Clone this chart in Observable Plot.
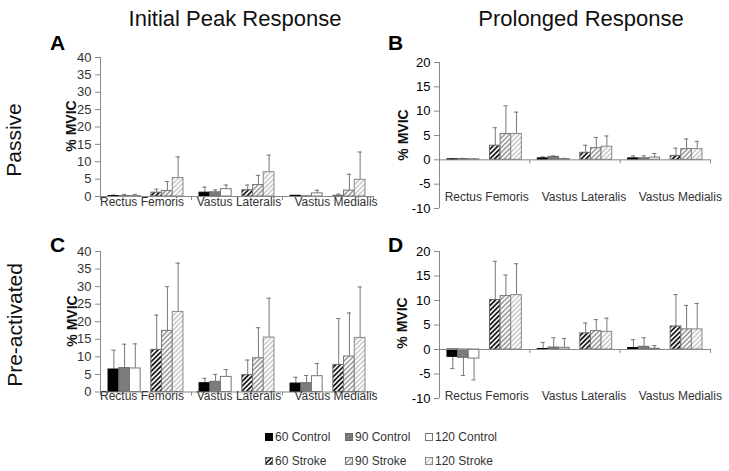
<!DOCTYPE html>
<html><head><meta charset="utf-8">
<script src="https://cdn.jsdelivr.net/npm/d3@7"></script>
<script src="https://cdn.jsdelivr.net/npm/@observablehq/plot@0.6"></script>
<style>
body{margin:0;background:#fff}
#root{position:relative;width:729px;height:471px;overflow:hidden;background:#fff;font-family:"Liberation Sans",Arial,sans-serif}
.panel{position:absolute}
.leg{position:absolute;display:flex;align-items:center;font-size:12px;color:#333;white-space:nowrap;line-height:12px}
.leg svg{margin-right:2px}
</style></head><body>
<div id="root">
<svg width="0" height="0" style="position:absolute"><defs>
 <pattern id="hatch60" patternUnits="userSpaceOnUse" width="3.4" height="3.4" patternTransform="rotate(45)">
  <rect width="3.4" height="3.4" fill="#fff"/><line x1="1.7" y1="0" x2="1.7" y2="3.4" stroke="#1a1a1a" stroke-width="1.8"/>
 </pattern>
 <pattern id="hatch90" patternUnits="userSpaceOnUse" width="3.4" height="3.4" patternTransform="rotate(45)">
  <rect width="3.4" height="3.4" fill="#fff"/><line x1="1.7" y1="0" x2="1.7" y2="3.4" stroke="#7a7a7a" stroke-width="1.2"/>
 </pattern>
 <pattern id="hatch120" patternUnits="userSpaceOnUse" width="3.4" height="3.4" patternTransform="rotate(45)">
  <rect width="3.4" height="3.4" fill="#fff"/><line x1="1.7" y1="0" x2="1.7" y2="3.4" stroke="#b4b4b4" stroke-width="1.1"/>
 </pattern>
</defs></svg>
</div>
<script>
// ---- data ----
const muscles = ["Rectus Femoris", "Vastus Lateralis", "Vastus Medialis"];
const groups = ["60 Control", "90 Control", "120 Control", "60 Stroke", "90 Stroke", "120 Stroke"];
const columnTitles = ["Initial Peak Response", "Prolonged Response"];
const rowTitles = ["Passive", "Pre-activated"];
const panelLetters = ["A", "B", "C", "D"];
const yLabel = "% MVIC";
const ticksPeak = [0, 5, 10, 15, 20, 25, 30, 35, 40];
const ticksProlonged = [-10, -5, 0, 5, 10, 15, 20];

// means [muscle][group], sd [muscle][group]
const peakPassiveMean = [[0.1, 0.1, 0.1, 1.1, 1.6, 5.3], [1.1, 1.2, 2.1, 1.8, 3.3, 7.0], [0.2, 0.05, 0.9, 0.2, 1.7, 4.8]];
const peakPassiveSD   = [[0.3, 0.5, 0.5, 1.0, 2.7, 6.1], [1.6, 0.7, 1.2, 1.5, 2.8, 4.9], [0.1, 0.05, 0.9, 0.5, 4.7, 8.0]];
const prolPassiveMean = [[0.1, 0.15, 0.1, 2.9, 5.3, 5.3], [0.3, 0.6, 0.15, 1.45, 2.4, 2.7], [0.3, 0.3, 0.45, 0.8, 2.2, 2.2]];
const prolPassiveSD   = [[0.15, 0.15, 0.1, 3.7, 5.8, 4.5], [0.3, 0.2, 0.15, 1.55, 2.2, 2.2], [0.5, 0.5, 0.85, 1.6, 2.1, 1.6]];
const peakPreMean = [[6.4, 6.8, 6.7, 12.0, 17.4, 22.8], [2.5, 2.9, 4.3, 4.8, 9.6, 15.5], [2.4, 2.5, 4.5, 7.7, 10.1, 15.4]];
const peakPreSD   = [[5.5, 6.8, 7.0, 9.9, 12.6, 13.9], [1.4, 2.1, 2.1, 4.3, 8.7, 11.2], [1.8, 2.2, 3.6, 13.2, 12.4, 14.5]];
const prolPreMean = [[-1.5, -1.7, -1.85, 10.1, 10.9, 11.1], [0.1, 0.4, 0.35, 3.3, 3.75, 3.6], [0.3, 0.55, 0.15, 4.7, 4.1, 4.1]];
const prolPreSD   = [[2.4, 3.6, 4.35, 7.9, 4.3, 6.4], [1.35, 2.0, 1.9, 2.1, 2.35, 2.8], [1.7, 1.85, 0.65, 6.5, 4.9, 5.3]];

// ---- styles ----
const fills = {"60 Control": "#000000", "90 Control": "#7c7c7c", "120 Control": "#ffffff",
  "60 Stroke": "url(#hatch60)", "90 Stroke": "url(#hatch90)", "120 Stroke": "url(#hatch120)"};
const strokes = {"60 Control": "#000000", "90 Control": "#6a6a6a", "120 Control": "#777777",
  "60 Stroke": "#666666", "90 Stroke": "#777777", "120 Stroke": "#888888"};
const FONT = '"Liberation Sans", Arial, sans-serif';
const SLOT = 1 / 8.5, PAD = 0.75, CAP = SLOT * 0.2;
const root = document.getElementById("root");

function panel(cfg) {
  const {mean, sd, domain, ticks, left, top, width, height, mt, mb, ml, mr, labelDy, labelShift, tickFont, tickFill} = cfg;
  const rows = [];
  muscles.forEach((m, mi) => groups.forEach((g, gi) => {
    const slot = gi < 3 ? gi : gi + 1;
    const x1 = mi + (PAD + slot) * SLOT;
    const v = mean[mi][gi], s = sd[mi][gi];
    rows.push({muscle: m, group: g, x1, x2: x1 + SLOT, xc: x1 + SLOT / 2, v, end: v < 0 ? v - s : v + s});
  }));
  const unitsPerPxY = (domain[1] - domain[0]) / (height - mt - mb);
  const unitsPerPxX = muscles.length / (width - ml - mr);
  const chart = Plot.plot({
    width, height, marginTop: mt, marginBottom: mb, marginLeft: ml, marginRight: mr,
    x: {domain: [0, muscles.length], axis: null},
    y: {domain, axis: null},
    color: {type: "identity"},
    style: {fontFamily: FONT, fontSize: tickFont + "px", background: "transparent", overflow: "visible"},
    marks: [
      Plot.ruleX(rows, {x: "xc", y1: "v", y2: "end", stroke: "#777", strokeWidth: 1}),
      Plot.ruleY(rows, {y: "end", x1: d => d.xc - CAP, x2: d => d.xc + CAP, stroke: "#777", strokeWidth: 1}),
      Plot.rectY(rows, {x1: "x1", x2: "x2", y1: 0, y2: "v", fill: d => fills[d.group], stroke: d => strokes[d.group], strokeWidth: 1}),
      Plot.ruleY([0], {stroke: "#888"}),
      Plot.ruleX(d3.range(muscles.length + 1), {y1: 0, y2: -4 * unitsPerPxY, stroke: "#888"}),
      Plot.ruleX([0], {stroke: "#888"}),
      Plot.axisY({ticks, tickSize: 5, tickPadding: 4, stroke: "#888", fill: tickFill, fontSize: tickFont, label: null, tickFormat: d => String(d)}),
      Plot.text(muscles, {x: (d, i) => i + 0.5 + labelShift[i] * unitsPerPxX, text: d => d, frameAnchor: "bottom", dy: labelDy, fontSize: 12, fill: "#333"})
    ]
  });
  chart.classList.add("panel");
  chart.style.left = left + "px";
  chart.style.top = top + "px";
  root.appendChild(chart);
}

const shiftLeft = [-4, 2, 8], shiftRight = [2, 9, 15];
panel({mean: peakPassiveMean, sd: peakPassiveSD, domain: [0, 40], ticks: ticksPeak, labelShift: shiftLeft,
  left: 40, top: 40, width: 345, height: 180, ml: 60, mr: 12, mt: 17, mb: 24, labelDy: 9, tickFont: 13, tickFill: "#333"});
panel({mean: peakPreMean, sd: peakPreSD, domain: [0, 40], ticks: ticksPeak, labelShift: shiftLeft,
  left: 40, top: 230, width: 345, height: 190, ml: 60, mr: 12, mt: 21, mb: 28.5, labelDy: 8, tickFont: 13, tickFill: "#333"});
panel({mean: prolPassiveMean, sd: prolPassiveSD, domain: [-10, 20], ticks: ticksProlonged, labelShift: shiftRight,
  left: 390, top: 40, width: 339, height: 180, ml: 49, mr: 19, mt: 22, mb: 12, labelDy: -8, tickFont: 13, tickFill: "#000"});
panel({mean: prolPreMean, sd: prolPreSD, domain: [-10, 20], ticks: ticksProlonged, labelShift: shiftRight,
  left: 390, top: 230, width: 339, height: 190, ml: 49, mr: 19, mt: 21, mb: 22, labelDy: 1, tickFont: 13, tickFill: "#000"});

// ---- overlay text ----
const NS = "http://www.w3.org/2000/svg";
const ov = document.createElementNS(NS, "svg");
ov.setAttribute("width", 729); ov.setAttribute("height", 471);
ov.style.position = "absolute"; ov.style.left = "0"; ov.style.top = "0"; ov.style.pointerEvents = "none";
ov.style.fontFamily = FONT;
root.appendChild(ov);
function txt(s, x, y, opts = {}) {
  const t = document.createElementNS(NS, "text");
  t.textContent = s;
  t.setAttribute("x", 0); t.setAttribute("y", 0);
  t.setAttribute("transform", `translate(${x},${y})` + (opts.rotate ? ` rotate(${opts.rotate})` : ""));
  t.setAttribute("text-anchor", opts.anchor || "middle");
  if (opts.central) t.setAttribute("dy", "0.35em");
  t.setAttribute("font-size", opts.size || 12);
  if (opts.bold) t.setAttribute("font-weight", "bold");
  t.setAttribute("fill", opts.fill || "#111");
  ov.appendChild(t);
}
txt(columnTitles[0], 235, 26, {size: 22});
txt(columnTitles[1], 581, 26, {size: 22});
txt(rowTitles[0], 14, 140, {size: 21, rotate: -90, central: true});
txt(rowTitles[1], 15, 325, {size: 21, rotate: -90, central: true});
[[71, 126], [403, 135], [72, 321], [402, 323]].forEach(([x, y]) => txt(yLabel, x, y, {size: 14, bold: true, rotate: -90, central: true}));
[[50, 50], [388, 50], [50, 252], [388, 252]].forEach(([x, y], i) => txt(panelLetters[i], x, y, {size: 21, bold: true, anchor: "start", fill: "#000"}));

// ---- legend ----
const legX = [265, 345, 425], legY = [437, 461];
groups.forEach((g, i) => {
  const d = document.createElement("div");
  d.className = "leg";
  d.style.left = legX[i % 3] + "px";
  d.style.top = (legY[Math.floor(i / 3)] - 6) + "px";
  d.innerHTML = `<svg width="8" height="8"><rect x="0.5" y="0.5" width="7" height="7" fill="${fills[g]}" stroke="${strokes[g]}"/></svg><span>${g}</span>`;
  root.appendChild(d);
});
</script>
</body></html>
